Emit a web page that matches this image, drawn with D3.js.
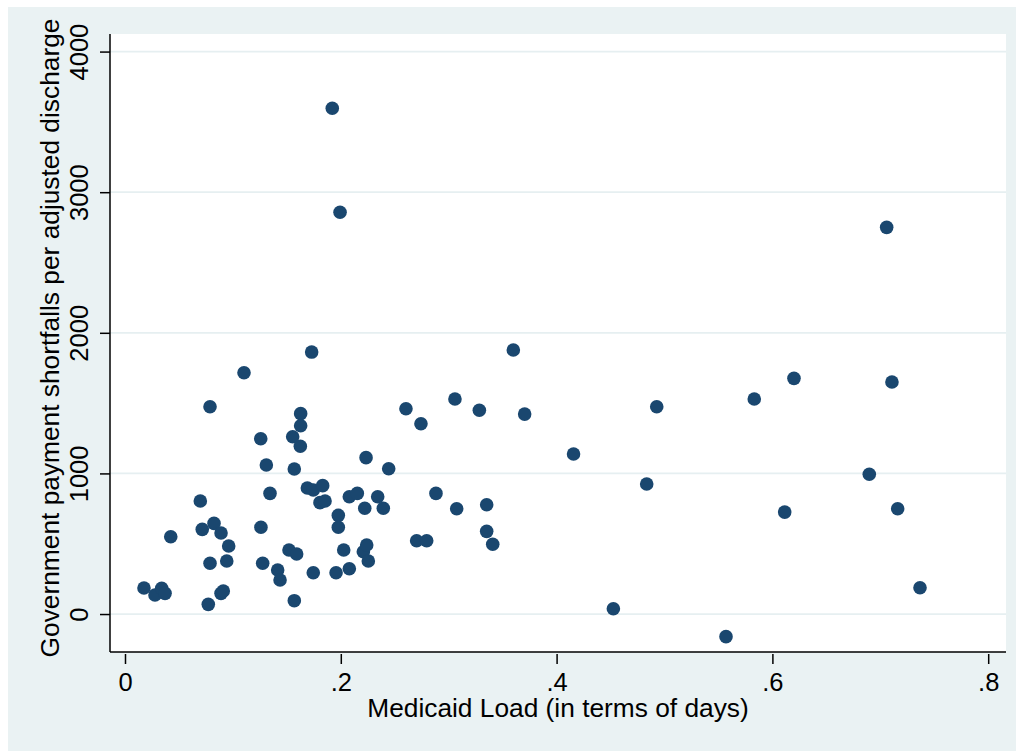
<!DOCTYPE html>
<html>
<head>
<meta charset="utf-8">
<script src="https://cdn.jsdelivr.net/npm/d3@7"></script>
<style>
  body { margin: 0; background: #ffffff; }
  svg { display: block; font-family: "Liberation Sans", Arial, sans-serif; }
</style>
</head>
<body>
<svg id="chart" width="1016" height="751"></svg>
<script>
"use strict";

// Medicaid load (share of days)
const medicaidLoad = [
  0.0176, 0.0278, 0.034, 0.0371, 0.0424, 0.0698, 0.0716, 0.0772, 0.0788, 0.0788,
  0.0825, 0.089, 0.089, 0.0911, 0.0943, 0.0961, 0.1103, 0.1258, 0.126, 0.1276,
  0.131, 0.1344, 0.1415, 0.1437, 0.152, 0.1554, 0.1569, 0.1569, 0.1591, 0.1628,
  0.1628, 0.1625, 0.169, 0.173, 0.1745, 0.1745, 0.1807, 0.1832, 0.1854, 0.1921,
  0.1956, 0.1977, 0.1977, 0.1993, 0.2027, 0.2079, 0.2079, 0.2153, 0.2222, 0.2209,
  0.2234, 0.224, 0.2255, 0.2342, 0.2394, 0.2444, 0.2604, 0.2703, 0.2743, 0.2796,
  0.2882, 0.3058, 0.3074, 0.3284, 0.3352, 0.3352, 0.3408, 0.3599, 0.3704, 0.4157,
  0.4526, 0.4835, 0.4928, 0.557, 0.5832, 0.6114, 0.62, 0.6898, 0.7059, 0.7108,
  0.7161, 0.7368
];

// Government payment shortfall per adjusted discharge
const shortfall = [
  185, 135, 183, 147, 550, 804, 602, 69, 361, 1474,
  645, 576, 147, 164, 377, 484, 1716, 1247, 617, 361,
  1060, 858, 313, 242, 455, 1261, 1031, 95, 427, 1425,
  1339, 1193, 896, 1863, 294, 882, 792, 913, 804, 3597,
  294, 702, 617, 2857, 455, 834, 322, 858, 752, 443,
  1112, 491, 377, 834, 752, 1033, 1460, 521, 1353, 521,
  858, 1529, 749, 1449, 777, 588, 496, 1878, 1422, 1138,
  38, 925, 1474, -161, 1529, 725, 1676, 994, 2750, 1650,
  749, 187
];

const xTicks = [0, 0.2, 0.4, 0.6, 0.8];
const yTicks = [0, 1000, 2000, 3000, 4000];

const xTitle = "Medicaid Load (in terms of days)";
const yTitle = "Government payment shortfalls per adjusted discharge";

const W = 1016, H = 751;
const plot = { left: 110, top: 34, right: 1006, bottom: 652 };
const FONT = 26.3;

const svg = d3.select("#chart");

// graph region
svg.append("rect")
  .attr("x", 8).attr("y", 7)
  .attr("width", W - 8).attr("height", H - 7)
  .attr("fill", "#eaf2f3");

// plot region
svg.append("rect")
  .attr("x", plot.left).attr("y", plot.top)
  .attr("width", plot.right - plot.left).attr("height", plot.bottom - plot.top)
  .attr("fill", "#ffffff");

const x = d3.scaleLinear()
  .domain([-0.0139, 0.8165])
  .range([plot.left, plot.right]);

const y = d3.scaleLinear()
  .domain([-270, 4125])
  .range([plot.bottom, plot.top]);

// gridlines
svg.append("g")
  .selectAll("line")
  .data(yTicks)
  .join("line")
  .attr("x1", plot.left).attr("x2", plot.right)
  .attr("y1", (d) => y(d)).attr("y2", (d) => y(d))
  .attr("stroke", "#e6eff1")
  .attr("stroke-width", 1.8);

// y axis
const yAxis = svg.append("g")
  .attr("transform", `translate(${plot.left},0)`)
  .call(d3.axisLeft(y).tickValues(yTicks).tickSize(10).tickPadding(12).tickFormat(d3.format("d")));
yAxis.select(".domain")
  .attr("d", `M0,${plot.top}V${plot.bottom}`)
  .attr("stroke", "#000").attr("stroke-width", 1.5);
yAxis.selectAll(".tick line").attr("stroke", "#000").attr("stroke-width", 1.5);
yAxis.selectAll(".tick text")
  .attr("font-size", 25.5)
  .attr("fill", "#000")
  .attr("x", null).attr("dy", null)
  .attr("text-anchor", "middle")
  .attr("transform", "translate(-22,0) rotate(-90)");

// x axis
svg.append("line")
  .attr("x1", plot.left).attr("x2", plot.right)
  .attr("y1", plot.bottom).attr("y2", plot.bottom)
  .attr("stroke", "#000").attr("stroke-width", 1.5);

const xAxis = svg.append("g")
  .attr("transform", `translate(0,${plot.bottom + 2})`)
  .call(d3.axisBottom(x).tickValues(xTicks).tickSize(10).tickPadding(12)
    .tickFormat((d) => (d === 0 ? "0" : d3.format(".1f")(d).replace(/^0/, ""))));
xAxis.select(".domain").remove();
xAxis.selectAll(".tick line").attr("stroke", "#000").attr("stroke-width", 1.5);
xAxis.selectAll(".tick text")
  .attr("font-size", 25.5)
  .attr("fill", "#000")
  .attr("dy", null)
  .attr("y", 37);

// titles
svg.append("text")
  .attr("x", (plot.left + plot.right) / 2)
  .attr("y", 717)
  .attr("text-anchor", "middle")
  .attr("font-size", FONT)
  .attr("fill", "#000")
  .text(xTitle);

svg.append("text")
  .attr("transform", `translate(59,${(plot.top + plot.bottom) / 2 - 5}) rotate(-90)`)
  .attr("text-anchor", "middle")
  .attr("font-size", FONT)
  .attr("fill", "#000")
  .text(yTitle);

// points
const points = medicaidLoad.map((v, i) => ({ x: v, y: shortfall[i] }));

svg.append("g")
  .selectAll("circle")
  .data(points)
  .join("circle")
  .attr("cx", (d) => x(d.x))
  .attr("cy", (d) => y(d.y))
  .attr("r", 6.8)
  .attr("fill", "#1a476f");
</script>
</body>
</html>
